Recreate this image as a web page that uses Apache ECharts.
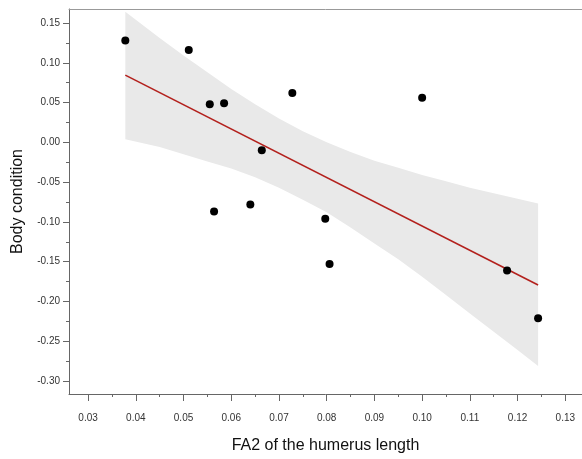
<!DOCTYPE html>
<html>
<head>
<meta charset="utf-8">
<script src="https://cdn.jsdelivr.net/npm/echarts@6/dist/echarts.min.js"></script>
<style>
  html, body { margin: 0; padding: 0; background: #fff; }
  #chart { width: 582px; height: 459px; }
</style>
</head>
<body>
<div id="chart"></div>
<script>
// observed points
const fa2 = [0.0378, 0.0511, 0.0555, 0.0585, 0.0728, 0.0664, 0.0564, 0.0640, 0.1000, 0.0797, 0.0806, 0.1178, 0.1243];
const bodyCondition = [0.128, 0.116, 0.048, 0.049, 0.062, -0.010, -0.087, -0.078, 0.056, -0.096, -0.153, -0.161, -0.221];

// fitted line, read at its two ends
const fitX = [0.0378, 0.1243];
const fitY = [0.0845, -0.1792];

// confidence band edges read along x
const bandX = [0.0378, 0.045, 0.05, 0.055, 0.06, 0.065, 0.07, 0.075, 0.08, 0.085, 0.09, 0.095, 0.10, 0.105, 0.11, 0.115, 0.12, 0.1243];
const bandUpper = [0.164, 0.131, 0.109, 0.088, 0.067, 0.048, 0.030, 0.014, 0.000, -0.012, -0.023, -0.032, -0.041, -0.049, -0.057, -0.064, -0.071, -0.077];
const bandLower = [0.004, -0.006, -0.015, -0.024, -0.033, -0.044, -0.057, -0.072, -0.088, -0.107, -0.127, -0.147, -0.169, -0.192, -0.215, -0.238, -0.261, -0.281];

// tick labels
const xTicks = [0.03, 0.04, 0.05, 0.06, 0.07, 0.08, 0.09, 0.10, 0.11, 0.12, 0.13];
const xMinorTicks = [0.035, 0.045, 0.055, 0.065, 0.075, 0.085, 0.095, 0.105, 0.115, 0.125];
const yTicks = [-0.30, -0.25, -0.20, -0.15, -0.10, -0.05, 0.00, 0.05, 0.10, 0.15];
const yMinorTicks = [-0.275, -0.225, -0.175, -0.125, -0.075, -0.025, 0.025, 0.075, 0.125];

const X_MIN = 0.026, X_MAX = 0.1335;
const Y_MIN = -0.3163, Y_MAX = 0.1676;

const axisColor = '#666';
const labelColor = '#333';
const font = 'Liberation Sans, Arial, sans-serif';

const chart = echarts.init(document.getElementById('chart'));

const points = fa2.map((x, i) => [x, bodyCondition[i]]);
const fitLine = fitX.map((x, i) => [x, fitY[i]]);
const bandPoly = bandX.map((x, i) => [x, bandUpper[i]])
  .concat(bandX.map((x, i) => [x, bandLower[i]]).reverse());

const option = {
  animation: false,
  grid: { left: 69, top: 9, right: 0, bottom: 65 },
  xAxis: [
    {
      type: 'value', min: X_MIN, max: X_MAX,
      name: 'FA2 of the humerus length',
      nameLocation: 'middle', nameGap: 44,
      nameTextStyle: { fontFamily: font, fontSize: 16, color: '#111' },
      axisLine: { show: true, onZero: false, lineStyle: { color: axisColor, width: 1 } },
      axisTick: { show: true, length: 7, customValues: xTicks, lineStyle: { color: axisColor } },
      axisLabel: {
        customValues: xTicks, margin: 19,
        fontFamily: font, fontSize: 10, color: labelColor,
        formatter: v => v.toFixed(2)
      },
      splitLine: { show: false }
    },
    {
      type: 'value', min: X_MIN, max: X_MAX, position: 'bottom',
      axisLine: { show: false, onZero: false },
      axisTick: { show: true, length: 3, customValues: xMinorTicks, lineStyle: { color: axisColor } },
      axisLabel: { show: false },
      splitLine: { show: false }
    },
    {
      type: 'value', min: X_MIN, max: X_MAX, position: 'top',
      axisLine: { show: true, onZero: false, lineStyle: { color: '#999', width: 1 } },
      axisTick: { show: false }, axisLabel: { show: false },
      splitLine: { show: false }
    }
  ],
  yAxis: [
    {
      type: 'value', min: Y_MIN, max: Y_MAX,
      name: 'Body condition',
      nameLocation: 'middle', nameGap: 43,
      nameTextStyle: { fontFamily: font, fontSize: 16, color: '#111' },
      axisLine: { show: true, onZero: false, lineStyle: { color: axisColor, width: 1 } },
      axisTick: { show: true, length: 6, customValues: yTicks, lineStyle: { color: axisColor } },
      axisLabel: {
        customValues: yTicks, margin: 9,
        fontFamily: font, fontSize: 10, color: labelColor,
        formatter: v => v.toFixed(2)
      },
      splitLine: { show: false }
    },
    {
      type: 'value', min: Y_MIN, max: Y_MAX, position: 'left',
      axisLine: { show: false, onZero: false },
      axisTick: { show: true, length: 3, customValues: yMinorTicks, lineStyle: { color: axisColor } },
      axisLabel: { show: false },
      splitLine: { show: false }
    }
  ],
  series: [
    {
      type: 'custom',
      coordinateSystem: 'cartesian2d',
      xAxisIndex: 0, yAxisIndex: 0,
      data: [0],
      silent: true,
      z: 1,
      renderItem: (params, api) => ({
        type: 'polygon',
        shape: { points: bandPoly.map(p => api.coord(p)) },
        style: { fill: '#e9e9e9', stroke: null }
      })
    },
    {
      type: 'line',
      data: fitLine,
      symbol: 'none',
      lineStyle: { color: '#b3201c', width: 1.6 },
      z: 3
    },
    {
      type: 'scatter',
      data: points,
      symbolSize: 8,
      itemStyle: { color: '#000', opacity: 1 },
      z: 4
    }
  ]
};

chart.setOption(option);
</script>
</body>
</html>
